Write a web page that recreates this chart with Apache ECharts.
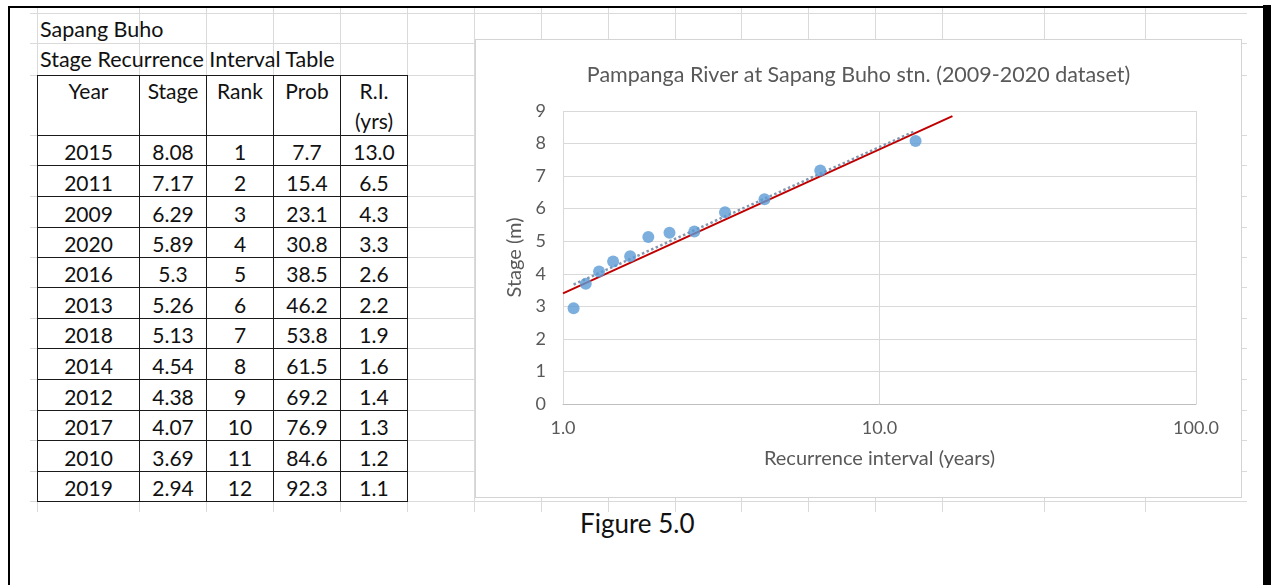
<!DOCTYPE html>
<html>
<head>
<meta charset="utf-8">
<script src="https://cdn.jsdelivr.net/npm/echarts@6/dist/echarts.min.js"></script>
<style>
  html, body { margin:0; padding:0; width:1271px; height:585px; background:#fff; overflow:hidden; font-family: Lato, "Open Sans", sans-serif; }
  .abs { position:absolute; }
  .gh { position:absolute; height:1px; background:#dadada; }
  .gv { position:absolute; width:1px; background:#dadada; }
  .cell { position:absolute; box-sizing:border-box; border:1px solid #1a1a1a; color:#111; font-size:21px; text-align:center; }
  .txt { position:absolute; color:#111; font-size:21.5px; white-space:nowrap; }
  #chart { position:absolute; left:475px; top:39px; width:767px; height:459px; background:#fff; border:1px solid #d4d4d4; box-sizing:border-box; }
</style>
</head>
<body>
<div id="sheet"></div>
<div id="chart"></div>
<script>
// ---- data ----
const sheetTitle = "Sapang Buho";
const tableTitle = "Stage Recurrence Interval Table";
const headers = ["Year", "Stage", "Rank", "Prob", "R.I.\n(yrs)"];
const years  = ["2015","2011","2009","2020","2016","2013","2018","2014","2012","2017","2010","2019"];
const stages = ["8.08","7.17","6.29","5.89","5.3","5.26","5.13","4.54","4.38","4.07","3.69","2.94"];
const ranks  = ["1","2","3","4","5","6","7","8","9","10","11","12"];
const probs  = ["7.7","15.4","23.1","30.8","38.5","46.2","53.8","61.5","69.2","76.9","84.6","92.3"];
const riText = ["13.0","6.5","4.3","3.3","2.6","2.2","1.9","1.6","1.4","1.3","1.2","1.1"];

// plotted points: recurrence interval (years) vs stage (m)
const riPlot    = [13.0, 6.5, 4.33, 3.25, 2.6, 2.17, 1.86, 1.63, 1.44, 1.3, 1.18, 1.08];
const stagePlot = [8.08, 7.17, 6.29, 5.89, 5.3, 5.26, 5.13, 4.54, 4.38, 4.07, 3.69, 2.94];

// red straight line (endpoints)
const redLineX = [1.0, 17.0];
const redLineY = [3.4, 8.84];
// dotted trendline (endpoints)
const trendX = [1.08, 13.0];
const trendY = [3.67, 8.39];

const chartTitle = "Pampanga River at Sapang Buho stn. (2009-2020 dataset)";
const xName = "Recurrence interval (years)";
const yName = "Stage (m)";
const figCaption = "Figure 5.0";

// ---- spreadsheet background (layout) ----
const sheet = document.getElementById('sheet');
function add(cls, style, text) {
  const d = document.createElement('div');
  d.className = cls;
  Object.assign(d.style, style);
  if (text !== undefined) d.textContent = text;
  sheet.appendChild(d);
  return d;
}
const rowLines = [13,43,75,135,165,196,227,257,287,318,348,379,410,440,471,501];
const colLines = [37,139,206,273,340,407,474,541,608,675,741,808,875,942,1044,1145];
rowLines.forEach(y => add('gh', {left:'30px', top:y+'px', width:'1217px'}));
colLines.forEach(x => add('gv', {left:x+'px', top:'7px', height:'505px'}));

// document frame
add('abs', {left:'8px', top:'6px', width:'1263px', height:'2px', background:'#000'});
add('abs', {left:'8px', top:'6px', width:'2px', height:'579px', background:'#000'});
add('abs', {left:'1263px', top:'5px', width:'8px', height:'580px', background:'#000'});

// titles
add('txt', {left:'40px', top:'15px', lineHeight:'28px'}, sheetTitle);
add('txt', {left:'40px', top:'45px', lineHeight:'28px'}, tableTitle);

// table
const colX = [37,139,206,273,340,407];
const rowY = [75,135,165,196,227,257,287,318,348,379,410,440,471,501];
const columns = [years, stages, ranks, probs, riText];
for (let c = 0; c < 5; c++) {
  add('cell', {left:colX[c]+'px', top:rowY[0]+'px', width:(colX[c+1]-colX[c]+1)+'px', height:(rowY[1]-rowY[0]+1)+'px', lineHeight:'30px', whiteSpace:'pre'}, headers[c]);
  for (let r = 0; r < 12; r++) {
    add('cell', {left:colX[c]+'px', top:rowY[r+1]+'px', width:(colX[c+1]-colX[c]+1)+'px', height:(rowY[r+2]-rowY[r+1]+1)+'px', lineHeight:(rowY[r+2]-rowY[r+1]+2)+'px'}, columns[c][r]);
  }
}

// caption
add('txt', {left:'580px', top:'506px', fontSize:'26px', lineHeight:'34px'}, figCaption);

// ---- chart ----
const chart = echarts.init(document.getElementById('chart'), null, {renderer:'canvas'});
const font = 'Lato, "Open Sans", sans-serif';
chart.setOption({
  animation: false,
  backgroundColor: 'transparent',
  title: {
    text: chartTitle, left: 'center', top: 19,
    textStyle: { color:'#595959', fontSize:21.5, fontWeight:'normal', fontFamily:font }
  },
  grid: { left: 87, right: 45, top: 71, bottom: 93 },
  xAxis: {
    type: 'log', logBase: 10, min: 1, max: 100,
    name: xName, nameLocation: 'middle', nameGap: 45,
    nameTextStyle: { color:'#595959', fontSize:20, fontFamily:font },
    axisLine: { show:true, lineStyle:{ color:'#bfbfbf', width:1 } },
    axisTick: { show:false },
    axisLabel: { color:'#595959', fontSize:18, fontFamily:font, margin:15, formatter: v => Number(v).toFixed(1) },
    splitLine: { show:true, lineStyle:{ color:'#d9d9d9', width:1 } },
    minorSplitLine: { show:false }
  },
  yAxis: {
    type: 'value', min: 0, max: 9, interval: 1,
    name: yName, nameLocation: 'middle', nameGap: 36, nameRotate: 90,
    nameTextStyle: { color:'#595959', fontSize:20, fontFamily:font },
    axisLine: { show:false },
    axisTick: { show:false },
    axisLabel: { color:'#595959', fontSize:18, fontFamily:font, margin:17 },
    splitLine: { show:true, lineStyle:{ color:'#d9d9d9', width:1 } }
  },
  series: [
    {
      type:'line', name:'fit', data: redLineX.map((x,i)=>[x, redLineY[i]]),
      symbol:'none', lineStyle:{ color:'#c00000', width:2 }, z:2
    },
    {
      type:'line', name:'trend', data: trendX.map((x,i)=>[x, trendY[i]]),
      symbol:'none', lineStyle:{ color:'#8497b0', width:2.5, type:'dotted' }, z:3
    },
    {
      type:'scatter', name:'Stage', data: riPlot.map((x,i)=>[x, stagePlot[i]]),
      symbol:'circle', symbolSize:12, itemStyle:{ color:'#5b9bd5' }, z:4
    }
  ]
});
</script>
</body>
</html>
